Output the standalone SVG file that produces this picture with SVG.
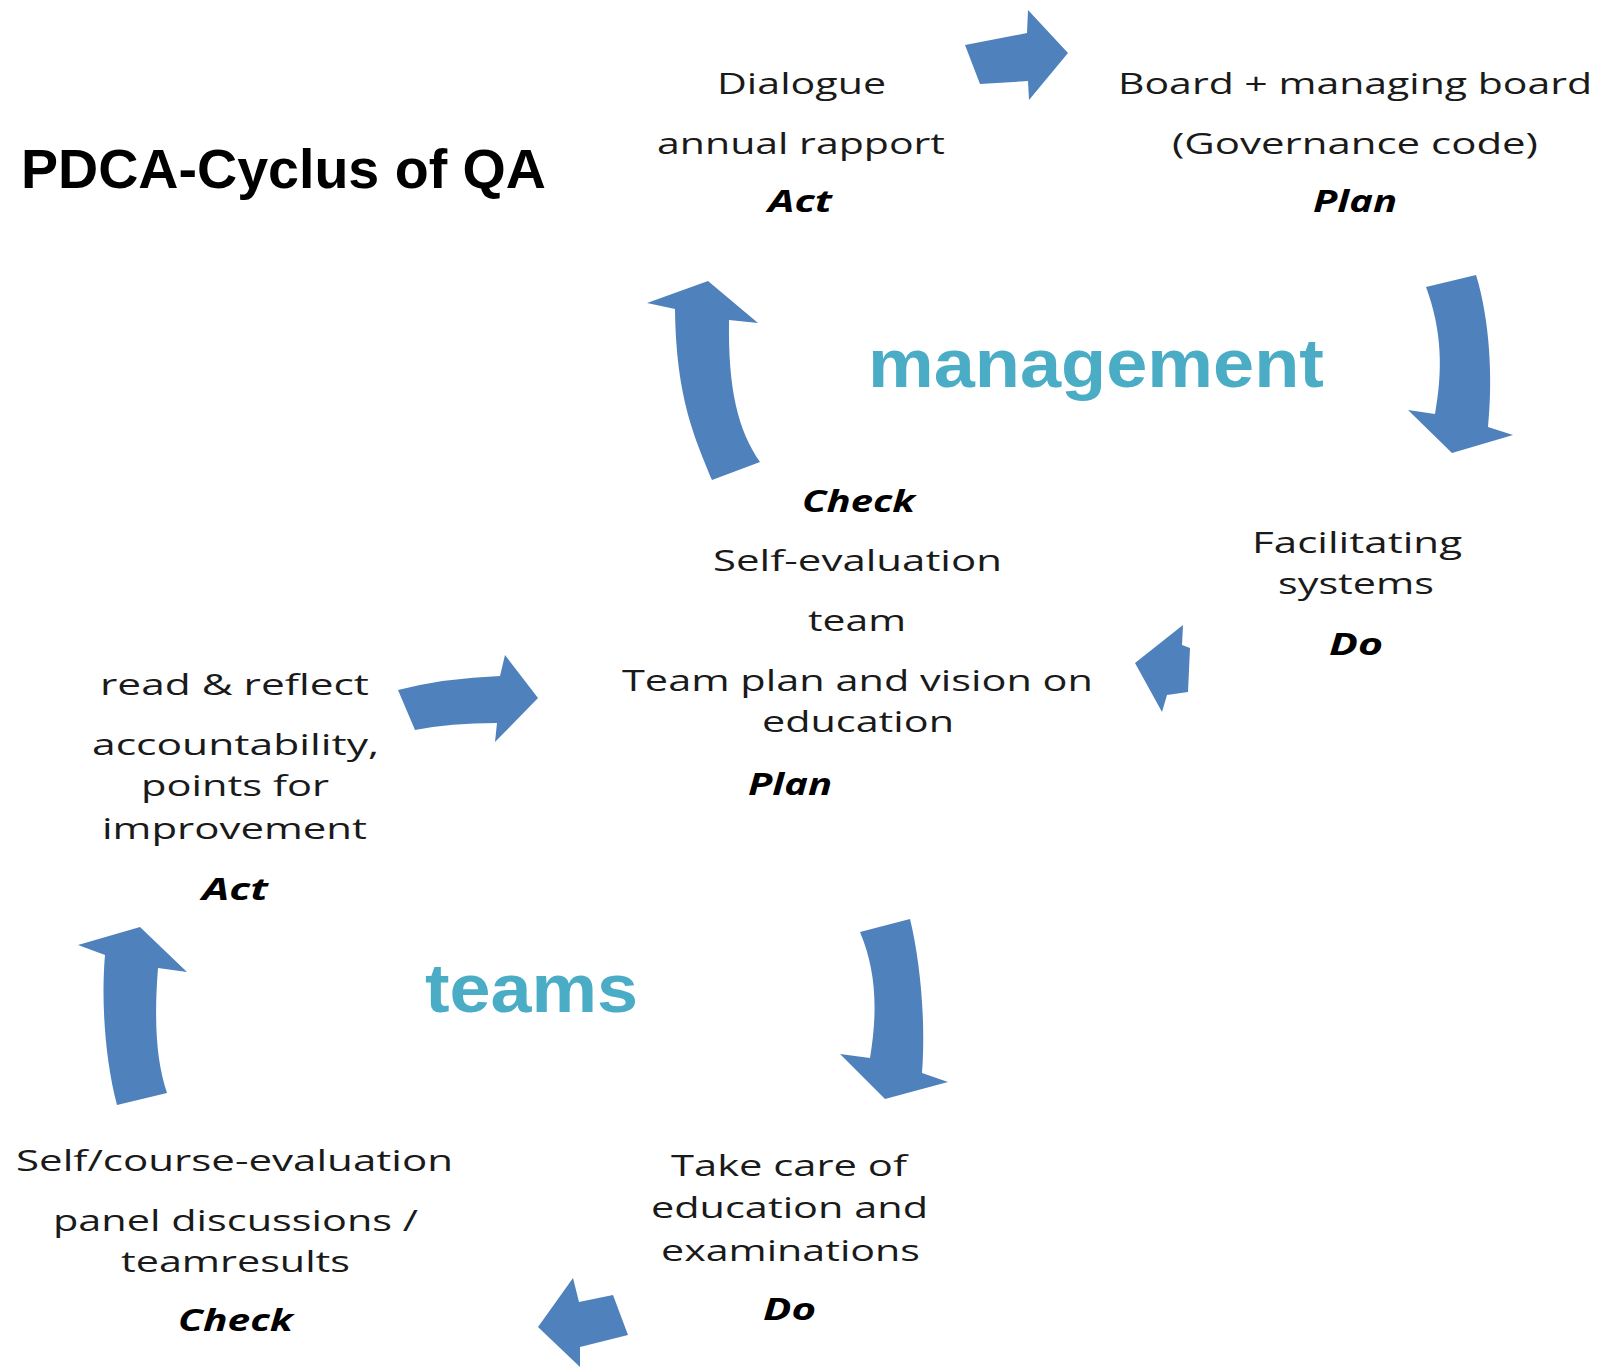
<svg xmlns="http://www.w3.org/2000/svg" width="1606" height="1367" viewBox="0 0 1606 1367">
  <style>
    .t { font-family: "Open Sans", "DejaVu Sans", sans-serif; font-size: 30px; fill: #1a1a1a; }
    .k { font-family: "Open Sans", "DejaVu Sans", sans-serif; font-size: 30px; font-weight: 700; font-style: italic; fill: #000; }
    .big { font-family: "Liberation Sans", Arial, sans-serif; font-size: 68px; font-weight: 700; fill: #4BACC6; }
    .title { font-family: "Liberation Sans", Arial, sans-serif; font-size: 55px; font-weight: 700; fill: #000; }
    .arrow { fill: #4F81BD; }
  </style>
  <rect width="1606" height="1367" fill="#fff"/>

  <text class="title" x="21" y="188" textLength="525" lengthAdjust="spacingAndGlyphs">PDCA-Cyclus of QA</text>

  <!-- cycle arrows -->
  <g id="connectors">
    <path class="arrow" d="M965,45 L1027,33 L1028,10 L1068,53 L1029,100 L1028,81 L980,84 Z"/>
    <path class="arrow" d="M1426,287 L1476,275 C1490,320 1493,380 1488,427 L1513,435 L1452,453 L1408,410 L1435,414 C1443,370 1442,330 1426,287 Z"/>
    <path class="arrow" d="M1183,625 L1182,645 L1190,648 L1188,692 L1167,695 L1162,712 L1135,663 Z"/>
    <path class="arrow" d="M712,480 C696,440 676,400 675,309 L647,303 L708,281 L758,323 L729,320 C728,390 738,430 760,462 Z"/>
    <path class="arrow" d="M398,690 Q445,678 500,676 L505,655 L538,698 L495,742 L497,723 Q450,723 415,730 Z"/>
    <path class="arrow" d="M860,932 L910,919 C920,960 926,1020 922,1073 L948,1082 L885,1099 L840,1054 L870,1058 C878,1010 876,970 860,932 Z"/>
    <path class="arrow" d="M580,1367 L580,1347 L628,1335 L613,1295 L579,1302 L573,1278 L538,1327 Z"/>
    <path class="arrow" d="M117,1105 C105,1060 101,1000 105,955 L78,945 L140,927 L187,972 L158,968 C154,1020 156,1060 167,1093 Z"/>
  </g>

  <g id="management-act">
    <text class="t" x="717" y="94" textLength="169" lengthAdjust="spacingAndGlyphs">Dialogue</text>
    <text class="t" x="657" y="154" textLength="288" lengthAdjust="spacingAndGlyphs">annual rapport</text>
    <text class="k" x="768" y="212" textLength="64" lengthAdjust="spacingAndGlyphs">Act</text>
  </g>

  <g id="management-plan">
    <text class="t" x="1118" y="94" textLength="474" lengthAdjust="spacingAndGlyphs">Board + managing board</text>
    <text class="t" x="1172" y="154" textLength="366" lengthAdjust="spacingAndGlyphs">(Governance code)</text>
    <text class="k" x="1313" y="212" textLength="84" lengthAdjust="spacingAndGlyphs">Plan</text>
  </g>

  <g id="management-label">
    <text class="big" x="868" y="387" textLength="456" lengthAdjust="spacingAndGlyphs">management</text>
  </g>

  <g id="management-do">
    <text class="t" x="1252" y="553" textLength="210" lengthAdjust="spacingAndGlyphs">Facilitating</text>
    <text class="t" x="1278" y="594" textLength="156" lengthAdjust="spacingAndGlyphs">systems</text>
    <text class="k" x="1329" y="655" textLength="54" lengthAdjust="spacingAndGlyphs">Do</text>
  </g>

  <g id="center-check-plan">
    <text class="k" x="802" y="512" textLength="113" lengthAdjust="spacingAndGlyphs">Check</text>
    <text class="t" x="713" y="571" textLength="289" lengthAdjust="spacingAndGlyphs">Self-evaluation</text>
    <text class="t" x="808" y="631" textLength="98" lengthAdjust="spacingAndGlyphs">team</text>
    <text class="t" x="622" y="691" textLength="471" lengthAdjust="spacingAndGlyphs">Team plan and vision on</text>
    <text class="t" x="762" y="732" textLength="192" lengthAdjust="spacingAndGlyphs">education</text>
    <text class="k" x="748" y="795" textLength="84" lengthAdjust="spacingAndGlyphs">Plan</text>
  </g>

  <g id="teams-act">
    <text class="t" x="100" y="695" textLength="269" lengthAdjust="spacingAndGlyphs">read &amp; reflect</text>
    <text class="t" x="92" y="755" textLength="287" lengthAdjust="spacingAndGlyphs">accountability,</text>
    <text class="t" x="141" y="796" textLength="188" lengthAdjust="spacingAndGlyphs">points for</text>
    <text class="t" x="102" y="839" textLength="265" lengthAdjust="spacingAndGlyphs">improvement</text>
    <text class="k" x="202" y="900" textLength="66" lengthAdjust="spacingAndGlyphs">Act</text>
  </g>

  <g id="teams-label">
    <text class="big" x="425" y="1012" textLength="213" lengthAdjust="spacingAndGlyphs">teams</text>
  </g>

  <g id="teams-do">
    <text class="t" x="671" y="1176" textLength="236" lengthAdjust="spacingAndGlyphs">Take care of</text>
    <text class="t" x="651" y="1218" textLength="277" lengthAdjust="spacingAndGlyphs">education and</text>
    <text class="t" x="661" y="1261" textLength="259" lengthAdjust="spacingAndGlyphs">examinations</text>
    <text class="k" x="763" y="1320" textLength="53" lengthAdjust="spacingAndGlyphs">Do</text>
  </g>

  <g id="teams-check">
    <text class="t" x="16" y="1171" textLength="437" lengthAdjust="spacingAndGlyphs">Self/course-evaluation</text>
    <text class="t" x="53" y="1231" textLength="365" lengthAdjust="spacingAndGlyphs">panel discussions /</text>
    <text class="t" x="121" y="1272" textLength="229" lengthAdjust="spacingAndGlyphs">teamresults</text>
    <text class="k" x="178" y="1331" textLength="115" lengthAdjust="spacingAndGlyphs">Check</text>
  </g>
</svg>
